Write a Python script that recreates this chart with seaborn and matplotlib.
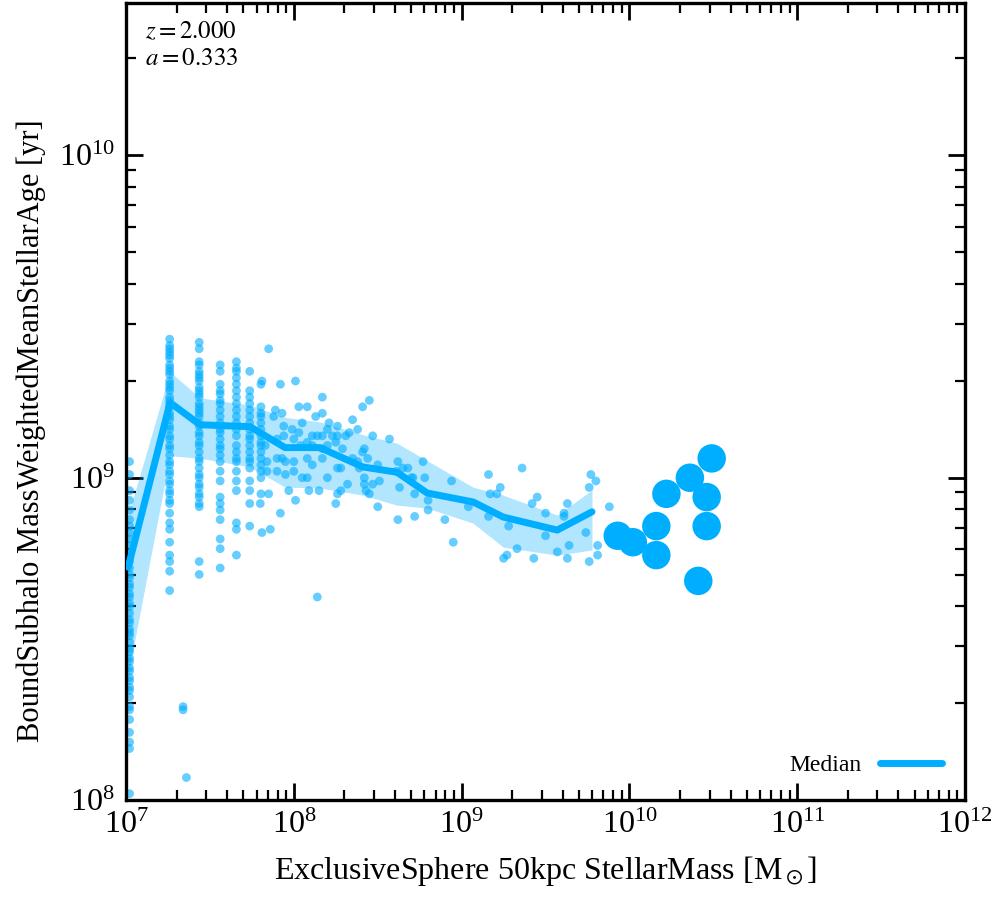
import numpy as np
import pandas as pd
import matplotlib
matplotlib.use("Agg")
import matplotlib.pyplot as plt
import seaborn as sns

# discrete stellar-mass columns (low-mass galaxies, few star particles)
column_mass = [1.05e7, 1.82e7, 2.73e7, 3.64e7, 4.55e7, 5.46e7, 6.37e7]
column_logage = [
    [9.05, 9.01, 8.96, 8.93, 8.90, 8.87, 8.85, 8.83, 8.81, 8.79, 8.77, 8.75, 8.74, 8.72,
     8.70, 8.69, 8.67, 8.66, 8.64, 8.63, 8.61, 8.60, 8.58, 8.56, 8.55, 8.53, 8.52, 8.51,
     8.49, 8.47, 8.46, 8.44, 8.43, 8.41, 8.40, 8.38, 8.37, 8.35, 8.34, 8.32, 8.29, 8.28,
     8.25, 8.21, 8.18, 8.16, 8.02],
    [9.43, 9.41, 9.40, 9.39, 9.38, 9.37, 9.35, 9.34, 9.33, 9.32, 9.30, 9.29, 9.28, 9.27,
     9.25, 9.24, 9.23, 9.22, 9.20, 9.19, 9.18, 9.16, 9.15, 9.13, 9.12, 9.10, 9.09, 9.07,
     9.05, 9.04, 9.02, 9.01, 8.99, 8.98, 8.96, 8.95, 8.93, 8.92, 8.89, 8.86, 8.84, 8.80,
     8.76, 8.74, 8.71, 8.65],
    [9.42, 9.40, 9.36, 9.35, 9.33, 9.32, 9.31, 9.30, 9.28, 9.27, 9.26, 9.25, 9.23, 9.22,
     9.21, 9.20, 9.19, 9.17, 9.16, 9.14, 9.13, 9.11, 9.10, 9.08, 9.06, 9.05, 9.03, 9.01,
     9.00, 8.98, 8.97, 8.95, 8.94, 8.92, 8.91, 8.74, 8.70],
    [9.35, 9.33, 9.29, 9.27, 9.26, 9.24, 9.23, 9.21, 9.19, 9.17, 9.15, 9.14, 9.12, 9.10,
     9.09, 9.07, 9.05, 9.02, 8.99, 8.94, 8.92, 8.90, 8.87, 8.81, 8.78, 8.72],
    [9.36, 9.34, 9.33, 9.31, 9.29, 9.27, 9.25, 9.23, 9.21, 9.19, 9.17, 9.15, 9.13, 9.10,
     9.08, 9.06, 9.05, 9.02, 8.99, 8.96, 8.86, 8.84, 8.76],
    [9.33, 9.27, 9.25, 9.23, 9.21, 9.19, 9.17, 9.15, 9.13, 9.12, 9.10, 9.08, 9.06, 9.05,
     9.03, 8.99, 8.96, 8.92, 8.85],
    [9.29, 9.22, 9.20, 9.19, 9.17, 9.15, 9.13, 9.11, 9.10, 9.08, 9.06, 9.04, 9.02, 9.00,
     8.95],
]

# remaining individual galaxies (log10 mass, log10 age)
scatter_logmass = [
    7.85, 7.81, 7.92, 8.01, 8.17, 8.03, 8.08, 8.17, 7.89, 7.93, 7.88, 8.13, 8.05, 8.21,
    8.35, 8.26, 7.99, 7.94, 8.03, 8.11, 8.14, 8.17, 8.20, 8.23, 8.26, 8.31, 8.33, 8.38,
    8.41, 8.45, 8.47, 8.57, 7.94, 7.90, 7.83, 8.00, 8.04, 8.08, 8.11, 8.17, 8.20, 8.25,
    8.29, 8.35, 8.42, 8.41, 8.38, 8.44, 8.50, 7.93, 7.90, 7.95, 8.00, 8.08, 8.11, 8.17,
    7.84, 8.28, 8.39, 8.62, 8.65, 8.68, 8.61, 7.84, 7.90, 7.95, 8.00, 8.05, 8.08, 8.20,
    8.26, 8.32, 8.42, 8.42, 8.47, 8.51, 8.63, 8.71, 7.85, 7.97, 8.01, 8.09, 8.15, 8.28,
    8.43, 8.45, 8.26, 8.72, 8.25, 8.50, 7.92, 8.62, 8.72, 7.80, 7.86, 7.81,
    8.77, 8.70, 8.78, 8.80, 8.80, 8.94, 8.90, 8.95, 9.04, 9.16, 9.17, 9.23, 9.21, 9.16,
    9.28, 9.33, 9.27, 9.25, 9.36, 9.45, 9.42, 9.50, 9.50, 9.43, 9.57, 9.61, 9.61, 9.63,
    9.64, 9.63, 9.77, 9.80, 9.76, 9.74, 9.81, 9.81, 9.76, 9.88,
    8.14, 7.34, 7.34, 7.36,
]
scatter_logage = [
    9.40, 9.30, 9.29, 9.30, 9.25, 9.22, 9.22, 9.20, 9.21, 9.20, 9.19, 9.19, 9.17, 9.17,
    9.18, 9.16, 9.15, 9.16, 9.14, 9.13, 9.13, 9.13, 9.15, 9.13, 9.13, 9.13, 9.14, 9.15,
    9.22, 9.24, 9.13, 9.12, 9.13, 9.12, 9.10, 9.12, 9.10, 9.11, 9.10, 9.09, 9.10, 9.11,
    9.09, 9.06, 9.09, 9.08, 9.05, 9.06, 9.04, 9.06, 9.06, 9.05, 9.05, 9.06, 9.04, 9.06,
    9.05, 9.03, 9.03, 9.05, 9.03, 9.03, 9.02, 9.02, 9.02, 9.01, 9.02, 9.00, 9.00, 9.00,
    9.03, 8.98, 9.00, 8.98, 8.98, 8.99, 8.97, 9.00, 8.95, 8.96, 8.93, 8.96, 8.96, 8.96,
    8.96, 8.95, 8.95, 8.95, 8.92, 8.91, 8.89, 8.87, 8.88, 8.92, 8.84, 8.83,
    9.05, 9.00, 9.00, 8.93, 8.90, 8.99, 8.87, 8.80, 8.91, 9.01, 8.95, 8.97, 8.95, 8.88,
    8.85, 8.78, 8.76, 8.75, 9.03, 8.94, 8.92, 8.89, 8.82, 8.75, 8.77, 8.89, 8.88, 8.92,
    8.79, 8.75, 9.01, 8.99, 8.97, 8.83, 8.79, 8.76, 8.74, 8.91,
    8.63, 8.29, 8.28, 8.07,
]

# massive galaxies drawn as large markers
big_logmass = [9.93, 10.02, 10.16, 10.16, 10.22, 10.36, 10.49, 10.46, 10.46, 10.41]
big_logage = [8.82, 8.80, 8.85, 8.76, 8.95, 9.00, 9.06, 8.94, 8.85, 8.68]

# binned median with 16-84 percentile band
median_mass = [1.03e7, 1.83e7, 2.76e7, 5.48e7, 8.87e7, 1.43e8, 2.58e8, 4.12e8,
               6.22e8, 1.17e9, 1.77e9, 3.71e9, 5.98e9]
median_age = [5.28e8, 1.71e9, 1.46e9, 1.44e9, 1.24e9, 1.24e9, 1.08e9, 1.04e9,
              8.97e8, 8.41e8, 7.55e8, 6.88e8, 7.84e8]
band_hi = [7.66e8, 2.13e9, 1.77e9, 1.68e9, 1.54e9, 1.49e9, 1.36e9, 1.28e9,
           1.13e9, 9.35e8, 8.83e8, 7.66e8, 9.16e8]
band_lo = [2.44e8, 1.17e9, 1.15e9, 1.08e9, 9.35e8, 9.29e8, 8.83e8, 8.22e8,
           8.05e8, 7.23e8, 6.09e8, 5.75e8, 5.97e8]

colour = "#00aeff"

rows = []
for m, ages in zip(column_mass, column_logage):
    for a in ages:
        rows.append((m, 10 ** a))
for m, a in zip(scatter_logmass, scatter_logage):
    rows.append((10 ** m, 10 ** a))
points = pd.DataFrame(rows, columns=["mass", "age"])
big = pd.DataFrame({"mass": 10 ** np.array(big_logmass), "age": 10 ** np.array(big_logage)})
med = pd.DataFrame({"mass": median_mass, "age": median_age})

sns.set_style("ticks")
plt.rcParams["font.family"] = ["Liberation Serif", "DejaVu Serif"]
plt.rcParams["mathtext.fontset"] = "stix"
plt.rcParams["text.color"] = "black"
plt.rcParams["axes.labelcolor"] = "black"
plt.rcParams["xtick.color"] = "black"
plt.rcParams["ytick.color"] = "black"

fig = plt.figure(figsize=(9.96, 9.0), dpi=100)
ax = fig.add_axes([0.1265, 0.111, 0.8425, 0.8857])

ax.fill_between(median_mass, band_lo, band_hi, color=colour, alpha=0.3, lw=0, zorder=1)
sns.scatterplot(data=points, x="mass", y="age", ax=ax, color=colour, alpha=0.6,
                s=40, edgecolor="none", zorder=2)
sns.lineplot(data=med, x="mass", y="age", ax=ax, color=colour, lw=5, label="Median",
             zorder=3, estimator=None, sort=False)
sns.scatterplot(data=big, x="mass", y="age", ax=ax, color=colour, s=420,
                edgecolor="none", zorder=4)

ax.set_xscale("log")
ax.set_yscale("log")
ax.set_xlim(1e7, 1e12)
ax.set_ylim(1e8, 2.97e10)

ax.set_xlabel(r"ExclusiveSphere 50kpc StellarMass [M$_\odot$]", fontsize=23, labelpad=10)
ax.set_ylabel("BoundSubhalo MassWeightedMeanStellarAge [yr]", fontsize=22)
ax.yaxis.set_label_coords(-0.095, 0.463)

for side in ax.spines.values():
    side.set_linewidth(2.4)
    side.set_color("black")
ax.tick_params(which="both", direction="in", top=True, right=True, labelsize=23, pad=8)
ax.tick_params(which="major", length=12, width=2)
ax.tick_params(which="minor", length=7, width=1.6)

ax.text(0.023, 0.978, r"$z = 2.000$", transform=ax.transAxes, fontsize=18, va="top")
ax.text(0.023, 0.944, r"$a = 0.333$", transform=ax.transAxes, fontsize=18, va="top")

ax.legend(loc="lower right", frameon=False, markerfirst=False, fontsize=17,
          handlelength=2.6, borderaxespad=0.6)

fig.savefig("out.png", dpi=100)
